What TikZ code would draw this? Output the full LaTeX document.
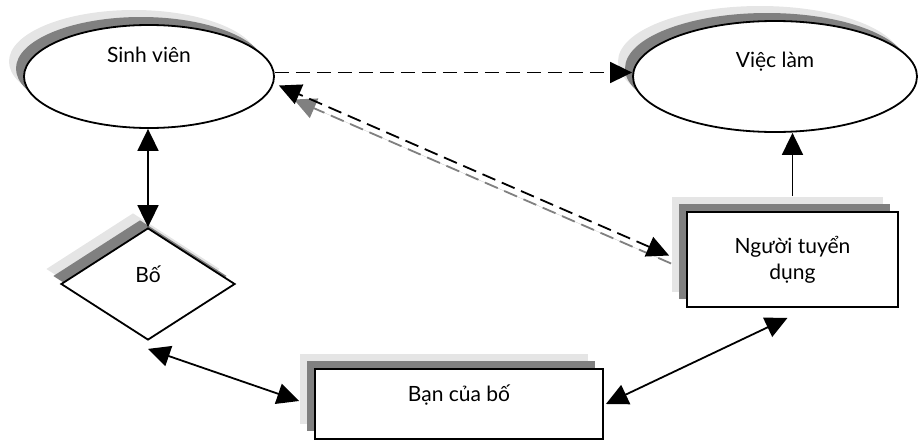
\documentclass[tikz,border=0pt]{standalone}
\usepackage{fontspec}
\setmainfont{Lato}
\usetikzlibrary{arrows.meta, shapes.geometric, shadows}

\tikzset{
    twoshadows/.style={
        general shadow={fill=black!10, shadow xshift=-15pt, shadow yshift=15pt},
        general shadow={fill=black!50, shadow xshift=-8pt, shadow yshift=8pt}},
    oval/.style={ellipse, draw, line width=1.8pt, fill=white, twoshadows, inner sep=0pt, text height=15pt},
    box/.style={rectangle, draw, line width=1.8pt, fill=white, twoshadows, inner sep=0pt, align=center},
    rhomb/.style={diamond, draw, line width=1.8pt, fill=white, twoshadows, inner sep=0pt, text height=15pt},
    link/.style={line width=1.8pt, -{Triangle[length=22pt, width=21pt]}},
    twolink/.style={line width=1.8pt, {Triangle[length=22pt, width=21pt]}-{Triangle[length=22pt, width=21pt]}},
    dashlink/.style={dash pattern=on 14pt off 7pt},
}

\begin{document}
\begin{tikzpicture}[x=1pt, y=-1pt, every node/.style={font=\fontsize{21}{26}\selectfont}]
    \useasboundingbox (0,0) rectangle (919,442);

    % the five boxes
    \node[oval, minimum width=250pt, minimum height=103pt, text depth=44pt] (sv) at (149,76.5) {Sinh viên};
    \node[oval, minimum width=284pt, minimum height=111pt, text depth=34pt] (vl) at (775,76.5) {Việc làm};
    \node[rhomb, minimum width=174pt, minimum height=112pt, text depth=18pt] (bo) at (148,284) {Bố};
    \node[box, minimum width=211pt, minimum height=95pt] (ntd) at (792.5,259.5) {Người tuyển\\dụng};
    \node[box, minimum width=288pt, minimum height=70pt, text height=15pt, text depth=21pt] (bcb) at (459,404) {Bạn của bố};

    % links
    \draw[link, dashlink] ([yshift=4pt]sv.east) -- ([yshift=4pt]vl.west);
    \draw[twolink] (sv.south -| bo.north) -- (bo.north);
    \draw[link] ([yshift=15pt]ntd.north) -- (ntd.north |- vl.south);
    \draw[twolink] ([yshift=-8pt]bo.south) -- ([xshift=-15pt,yshift=3pt]bcb.west);
    \draw[twolink] ([xshift=2pt]bcb.east) -- ([xshift=-5pt,yshift=-10pt]ntd.south);

    % recruiter back to the student, with its grey twin
    \draw[link, dashlink, draw=black!50, fill=black!50] ([xshift=-15pt,yshift=-4pt]ntd.west) -- ([xshift=19pt,yshift=-23pt]sv.east);
    \draw[twolink, dashlink] ([xshift=-17pt,yshift=4pt]ntd.west) -- ([xshift=4pt,yshift=-9pt]sv.east);
\end{tikzpicture}
\end{document}
